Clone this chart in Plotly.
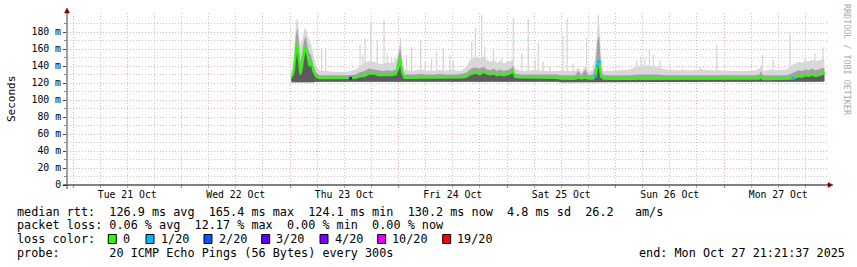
import plotly.graph_objects as go
import pandas as pd

# ---------------- data (ms, hours after Thu 23 Oct 00:00) ----------------
hours = [0.3, 0.8, 1.3, 1.6, 1.9, 2.3, 2.7, 3.1, 3.5, 3.9, 4.3, 4.7, 5.2, 5.8, 6.5, 8, 10, 12, 13.4, 14.5,
         15.6, 16.5, 17.5, 18.5, 19.5, 20.5, 21.5, 22.5, 23.4, 24.0, 24.4, 24.8, 25.3,
         27, 28, 29, 30, 31, 32, 33, 34, 35, 36, 37, 38, 39, 39.8, 40.5, 41.3, 42, 42.8, 43.5, 44.3, 45,
         45.8, 46.5, 47.3, 48, 48.7, 49.3, 49.8,
         51, 53, 55, 57, 59, 60, 61.5, 63, 63.8, 64.5, 65.3, 66, 67, 67.6, 68, 68.4, 68.8, 69.3,
         71, 73, 75, 77, 79, 81, 83, 85, 87, 89, 91, 93, 95,
         97, 99, 101, 103, 103.8, 104.2, 104.6, 106, 108, 110, 110.8, 111.3, 111.8, 112.5, 113.2, 114,
         114.8, 115.5, 116.3, 117, 117.7, 118.2]
median = [126, 132, 155, 165, 150, 130, 140, 155, 162, 150, 140, 145, 133, 127, 125.5, 125.5, 125.5, 125.5, 125.5, 126,
          128, 128, 131, 131, 129, 129, 129, 129, 130, 138, 149, 132, 126,
          126, 126, 126.5, 126, 126, 126, 126.5, 126, 126, 126, 126, 126.5, 127, 130, 131, 132, 130, 133, 131, 130, 131,
          129, 130, 129, 130, 131, 134, 127,
          126.5, 126.5, 126.5, 126, 126, 125, 124.7, 124.7, 126, 125, 126, 125, 125, 128, 140, 145, 127, 125,
          124.7, 124.7, 124.5, 124.7, 124.7, 124.5, 124.7, 124.5, 124.5, 124.7, 124.5, 124.5, 124.5,
          124.5, 124.5, 124.5, 124.5, 125, 127, 124.5, 124.5, 124.5, 124.7, 125, 125.5, 126, 128, 127, 129,
          128, 130, 128, 129, 130, 133]
smoke_hi = [129, 140, 175, 185, 170, 145, 155, 170, 175, 162, 155, 152, 140, 132, 129, 129, 129, 129, 129, 130,
            133, 134, 137, 136, 135, 134, 135, 134, 136, 150, 163, 140, 130,
            130, 130, 131, 130, 130, 130, 131, 130, 130, 130, 130, 131, 132, 136, 138, 138, 137, 139, 136, 135, 137,
            134, 136, 134, 135, 136, 140, 131,
            130, 130, 130, 130, 130, 129, 129, 129, 134, 129, 136, 129, 130, 140, 170, 175, 135, 129,
            129, 129, 129, 130, 130, 130, 129, 129, 129, 129, 129, 129, 129,
            128.5, 128.5, 128.5, 129, 130, 134, 129, 129, 129, 129, 131, 132, 133, 135, 134, 136,
            135, 137, 135, 136, 137, 138]
smoke_top = [133, 150, 190, 198, 185, 165, 170, 182, 185, 175, 170, 165, 152, 140, 135, 134, 133, 133, 134, 136,
             140, 144, 146, 145, 143, 142, 145, 143, 146, 158, 170, 150, 136,
             134, 135, 136, 134, 135, 134, 136, 134, 135, 136, 134, 135, 139, 147, 149, 151, 149, 151, 147, 145, 147,
             144, 146, 143, 145, 146, 148, 137,
             134, 135, 135, 134, 134, 134, 134, 134, 138, 133, 140, 133, 136, 155, 185, 192, 150, 134,
             134, 135, 136, 140, 141, 139, 136, 135, 135, 135, 136, 135, 135,
             134, 134, 134, 135, 137, 140, 134, 136, 135, 136, 140, 142, 143, 145, 144, 146,
             145, 147, 146, 147, 148, 148]
smoke_lo = [121, 121, 120.5, 120.5, 120.5, 121, 120.5, 120.5, 120.5, 120.5, 121, 121, 121, 121.5, 121.5, 121.5, 121.5, 121.5, 121.5, 121.5,
            121.5, 121.5, 122, 122, 121.5, 121.5, 121.5, 121.5, 121.5, 121.5, 121.5, 121.5, 121.5,
            122, 122, 122, 122, 122, 122, 122, 122, 122, 122, 122, 122, 122, 122, 122, 122, 122, 122, 122, 122, 122,
            122, 122, 122, 122, 122, 122, 122,
            122, 122, 122, 121.5, 121.5, 121, 121, 121, 121, 121, 121, 121, 121, 121, 121, 121, 121, 121,
            121, 121, 121, 121, 121, 121, 121, 121, 121, 121, 121, 121, 121,
            121, 121, 121, 121, 121, 121, 121, 121, 121, 121, 121, 121, 121.5, 121.5, 121.5, 121.5,
            121.5, 121.5, 121.5, 121.5, 121.5, 122]
loss = [0, 0, 0, 0, 0, 0, 0, 0, 0, 0, 0, 0, 0, 0, 0, 0, 0, 0, 3, 0,
        0, 0, 0, 0, 0, 0, 0, 0, 0, 0, 0, 0, 0,
        0, 0, 0, 0, 0, 0, 0, 0, 0, 0, 0, 0, 0, 0, 0, 0, 0, 0, 0, 0, 0,
        0, 0, 0, 0, 0, 0, 0,
        0, 0, 0, 0, 0, 0, 0, 0, 0, 0, 0, 0, 0, 1, 1, 1, 0, 0,
        0, 0, 0, 0, 0, 0, 0, 0, 0, 0, 0, 0, 0,
        0, 0, 0, 0, 0, 0, 0, 0, 0, 0, 0, 1, 0, 0, 0, 0,
        0, 0, 0, 0, 0, 0]

spike_hours = [7.0, 7.9, 15.5, 16.1, 16.6, 17.9, 19.3, 20.8, 21.5, 22.5, 23.2, 24.5, 25.8, 26.9, 28.9, 29.9,
               31.3, 32.4, 33.9, 35.4, 36.1, 40.2, 41.0, 42.4, 43.1, 45.0, 46.8, 49.4, 51.3, 52.7, 54.2,
               54.9, 56.0, 57.5, 60.4, 61.3, 62.6, 65.6, 68.2, 74.5, 76.7, 77.6, 78.5, 79.5, 80.4, 81.8,
               84.1, 86.9, 90.7, 94.4, 104.5, 106.9, 110.6, 113.9, 115.0, 116.1, 117.9]
spike_top = [161, 161, 165, 153, 172, 192, 170, 194, 155, 151, 151, 173, 153, 162, 170, 145,
             149, 157, 161, 153, 147, 169, 185, 200, 163, 161, 149, 197, 155, 196, 147,
             167, 145, 140, 176, 196, 143, 173, 200, 135, 147, 151, 149, 159, 153, 147,
             137, 137, 140, 165, 153, 147, 180, 150, 145, 155, 161]

loss_levels = [0, 1, 2, 3, 4, 10, 19]
loss_labels = ["0", "1/20", "2/20", "3/20", "4/20", "10/20", "19/20"]
loss_colors = ["#26ff00", "#00b8ff", "#0059ff", "#5e00ff", "#7e00ff", "#dd00ff", "#ff0000"]

y_major = [0, 20, 40, 60, 80, 100, 120, 140, 160, 180]
y_major_text = ["0", "20 m", "40 m", "60 m", "80 m", "100 m", "120 m", "140 m", "160 m", "180 m"]
y_minor = [10, 30, 50, 70, 90, 110, 130, 150, 170, 190]

stats_lines = [
    "median rtt:  126.9 ms avg  165.4 ms max  124.1 ms min  130.2 ms now  4.8 ms sd  26.2   am/s",
    "packet loss: 0.06 % avg  12.17 % max  0.00 % min  0.00 % now",
    "loss color:",
    "probe:       20 ICMP Echo Pings (56 Bytes) every 300s",
]
end_text = "end: Mon Oct 27 21:21:37 2025"
side_text = "RRDTOOL / TOBI OETIKER"

# ---------------- geometry ----------------
W, H = 857, 267
L, R, T, B = 67, 29, 13, 82
PW = W - L - R
PH = H - T - B
DAYPX = 108.5
Y_MAX = PH / 0.85
MONO = "DejaVu Sans Mono"
FS = 11.8


def px(x):
    return (x - L) / PW


def py(y):
    return (H - B - y) / PH


t_tue = pd.Timestamp("2025-10-21")
x0 = t_tue - pd.Timedelta(days=(73 - L) / DAYPX)
x1 = x0 + pd.Timedelta(days=PW / DAYPX)
base_t = pd.Timestamp("2025-10-23")
times = [base_t + pd.Timedelta(hours=h) for h in hours]
stimes = [base_t + pd.Timedelta(hours=h) for h in spike_hours]

fig = go.Figure()
inv = dict(width=0, color="rgba(0,0,0,0)")

# spikes (max ping)
sx, sy = [], []
for t, v in zip(stimes, spike_top):
    sx += [t, t, None]
    sy += [124, v, None]
fig.add_trace(go.Scatter(x=sx, y=sy, mode="lines", line=dict(color="#d6d6d6", width=1.3),
                         hoverinfo="skip", showlegend=False))

# light smoke
fig.add_trace(go.Scatter(x=times, y=smoke_lo, mode="lines", line=inv, hoverinfo="skip", showlegend=False))
fig.add_trace(go.Scatter(x=times, y=smoke_top, mode="lines", line=inv, fill="tonexty",
                         fillcolor="#d8d8d8", hoverinfo="skip", showlegend=False))
# mid smoke
fig.add_trace(go.Scatter(x=times, y=smoke_lo, mode="lines", line=inv, hoverinfo="skip", showlegend=False))
fig.add_trace(go.Scatter(x=times, y=smoke_hi, mode="lines", line=inv, fill="tonexty",
                         fillcolor="#a2a2a2", hoverinfo="skip", showlegend=False))
# dark core (below median)
fig.add_trace(go.Scatter(x=times, y=smoke_lo, mode="lines", line=inv, hoverinfo="skip", showlegend=False))
fig.add_trace(go.Scatter(x=times, y=median, mode="lines", line=inv, fill="tonexty",
                         fillcolor="#5c5c5c", hoverinfo="skip", showlegend=False))
# median
fig.add_trace(go.Scatter(x=times, y=median, mode="lines", line=dict(color=loss_colors[0], width=2),
                         hoverinfo="skip", showlegend=False))
# loss-colored median points
for lvl, col in zip(loss_levels[1:], loss_colors[1:]):
    xs = [t for t, l in zip(times, loss) if l == lvl]
    ys = [m for m, l in zip(median, loss) if l == lvl]
    if xs:
        fig.add_trace(go.Scatter(x=xs, y=ys, mode="markers",
                                 marker=dict(color=col, size=3, symbol="square"),
                                 hoverinfo="skip", showlegend=False))

shapes = []
# axis lines
shapes.append(dict(type="line", xref="paper", yref="paper", x0=px(63), x1=px(829), y0=py(185), y1=py(185),
                   line=dict(color="black", width=1)))
shapes.append(dict(type="line", xref="paper", yref="paper", x0=px(67), x1=px(67), y0=py(189), y1=py(11),
                   line=dict(color="#404040", width=1)))
# arrows
shapes.append(dict(type="path", xref="paper", yref="paper",
                   path=f"M {px(64.5)},{py(13)} L {px(69.5)},{py(13)} L {px(67)},{py(8)} Z",
                   fillcolor="#800000", line=dict(color="#800000", width=0.5)))
shapes.append(dict(type="path", xref="paper", yref="paper",
                   path=f"M {px(828)},{py(182.5)} L {px(828)},{py(187.5)} L {px(833)},{py(185)} Z",
                   fillcolor="#800000", line=dict(color="#800000", width=0.5)))

annotations = []
row_y = [211.5, 225.3, 239.2, 253]
for txt, yy in zip(stats_lines, row_y):
    annotations.append(dict(x=px(16), y=py(yy), xref="paper", yref="paper", xanchor="left", yanchor="middle",
                            text=txt.replace(" ", "\u00a0"), showarrow=False, borderpad=0,
                            font=dict(family=MONO, size=FS, color="black")))
annotations.append(dict(x=px(638), y=py(253), xref="paper", yref="paper", xanchor="left", yanchor="middle",
                        text=end_text.replace(" ", "\u00a0"), showarrow=False, borderpad=0,
                        font=dict(family=MONO, size=FS, color="black")))
box_x = [108.3, 146, 204, 261.7, 320, 377.7, 442.7]
for bx, lab, col in zip(box_x, loss_labels, loss_colors):
    shapes.append(dict(type="rect", xref="paper", yref="paper", x0=px(bx), x1=px(bx + 8),
                       y0=py(243.5), y1=py(234.5), fillcolor=col, line=dict(color="black", width=1)))
    annotations.append(dict(x=px(bx + 13.5), y=py(239.2), xref="paper", yref="paper", xanchor="left",
                            yanchor="middle", text=lab, showarrow=False, borderpad=0,
                            font=dict(family=MONO, size=FS, color="black")))
# y title
annotations.append(dict(x=px(11), y=py(99), xref="paper", yref="paper", xanchor="center", yanchor="middle",
                        text="Seconds", textangle=-90, showarrow=False, borderpad=0,
                        font=dict(family=MONO, size=11, color="black")))
# side credit
annotations.append(dict(x=px(847), y=py(60), xref="paper", yref="paper", xanchor="center", yanchor="middle",
                        text=side_text.replace(" ", "\u00a0"), textangle=90, showarrow=False, borderpad=0,
                        font=dict(family=MONO, size=8.4, color="#aaaaaa")))

MAJ = "rgba(230,120,120,0.6)"
MIN = "rgba(150,150,150,0.55)"
fig.update_layout(
    width=W, height=H,
    margin=dict(l=L, r=R, t=T, b=B, pad=0),
    paper_bgcolor="white", plot_bgcolor="white",
    showlegend=False,
    shapes=shapes, annotations=annotations,
    xaxis=dict(type="date", range=[x0, x1], tick0="2025-10-21", dtick=86400000,
               tickformat="%a %d %b", ticklabelmode="period",
               showgrid=True, gridcolor=MAJ, griddash="1px,2px", gridwidth=1,
               ticks="outside", ticklen=2, tickcolor="#888888", ticklabelstandoff=-2,
               minor=dict(dtick=6 * 3600 * 1000, showgrid=True, gridcolor=MIN, griddash="1px,2px",
                          ticks="outside", ticklen=2, tickcolor="#aaaaaa"),
               tickfont=dict(family=MONO, size=9.8, color="black"),
               showline=False, zeroline=False, fixedrange=True),
    yaxis=dict(range=[0, Y_MAX], tickmode="array", tickvals=y_major, ticktext=y_major_text,
               showgrid=True, gridcolor=MAJ, griddash="1px,2px", gridwidth=1,
               ticks="outside", ticklen=3, tickcolor="#444444",
               minor=dict(tickmode="array", tickvals=y_minor, showgrid=True, gridcolor=MIN,
                          griddash="1px,2px", ticks="outside", ticklen=2, tickcolor="#888888"),
               tickfont=dict(family=MONO, size=9.8, color="black"),
               showline=False, zeroline=False, fixedrange=True),
)

fig.write_html("out.html")
